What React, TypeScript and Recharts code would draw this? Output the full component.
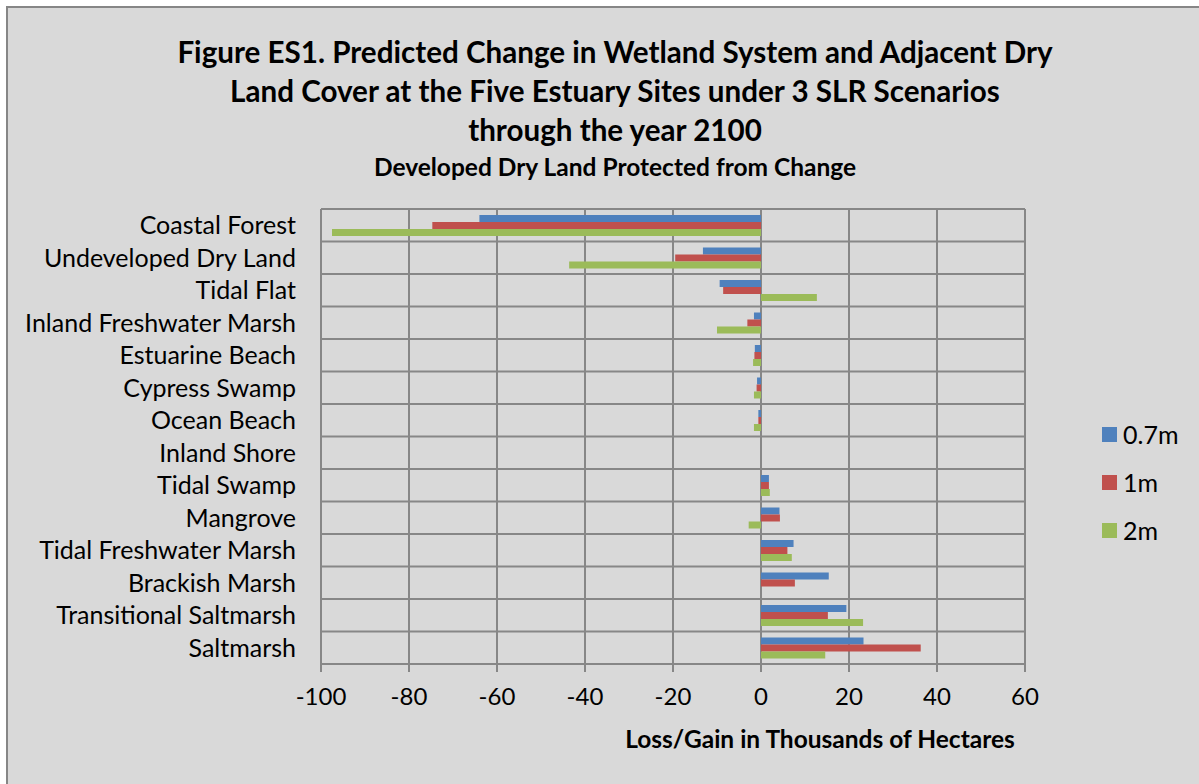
import React from 'react';
import { BarChart, Bar, XAxis, YAxis, CartesianGrid } from 'recharts';

const categories = [
  'Coastal Forest',
  'Undeveloped Dry Land',
  'Tidal Flat',
  'Inland Freshwater Marsh',
  'Estuarine Beach',
  'Cypress Swamp',
  'Ocean Beach',
  'Inland Shore',
  'Tidal Swamp',
  'Mangrove',
  'Tidal Freshwater Marsh',
  'Brackish Marsh',
  'Transitional Saltmarsh',
  'Saltmarsh',
];

const slr07 = [-64, -13.2, -9.4, -1.6, -1.4, -0.9, -0.6, 0, 1.8, 4.2, 7.4, 15.4, 19.4, 23.3];
const slr1 = [-74.7, -19.5, -8.6, -3.1, -1.5, -1.0, -0.6, 0, 1.8, 4.3, 6.0, 7.7, 15.2, 36.3];
const slr2 = [-97.5, -43.6, 12.7, -10.0, -1.8, -1.6, -1.6, 0, 2.0, -2.8, 7.0, 0, 23.2, 14.6];

const xTicks = [-100, -80, -60, -40, -20, 0, 20, 40, 60];

const SERIES = [
  { key: 'a', name: '0.7m', color: '#4f81bd' },
  { key: 'b', name: '1m', color: '#c0504d' },
  { key: 'c', name: '2m', color: '#9bbb59' },
];

const data = categories.map((c, i) => ({
  name: c,
  a: slr07[i],
  b: slr1[i],
  c: slr2[i],
}));

const FONT = 'Lato, Carlito, Calibri, sans-serif';
const GRID = '#878787';

export default function App() {
  return (
    <div style={{ position: 'absolute', left: 0, top: 0, width: 1199, height: 784, background: '#fff' }}>
      <div
        style={{
          position: 'absolute',
          left: 6,
          top: 6,
          width: 1193,
          height: 778,
          background: '#d9d9d9',
          borderLeft: '2px solid #868686',
          borderTop: '2px solid #868686',
          boxSizing: 'border-box',
        }}
      />
      <div
        style={{
          position: 'absolute',
          left: 0,
          top: 32,
          width: 1230,
          textAlign: 'center',
          fontFamily: FONT,
          fontWeight: 700,
          fontSize: 29.6,
          lineHeight: '39px',
          color: '#000',
        }}
      >
        Figure ES1. Predicted Change in Wetland System and Adjacent Dry
        <br />
        Land Cover at the Five Estuary Sites under 3 SLR Scenarios
        <br />
        through the year 2100
      </div>
      <div
        style={{
          position: 'absolute',
          left: 0,
          top: 151,
          width: 1230,
          textAlign: 'center',
          fontFamily: FONT,
          fontWeight: 700,
          fontSize: 24.5,
          lineHeight: '32px',
          color: '#000',
        }}
      >
        Developed Dry Land Protected from Change
      </div>
      <div
        style={{
          position: 'absolute',
          left: 520,
          top: 723,
          width: 600,
          textAlign: 'center',
          fontFamily: FONT,
          fontWeight: 700,
          fontSize: 24.5,
          lineHeight: '32px',
          color: '#000',
        }}
      >
        Loss/Gain in Thousands of Hectares
      </div>
      <div
        style={{
          position: 'absolute',
          left: 1102,
          top: 410,
          fontFamily: FONT,
          fontSize: 25,
          color: '#000',
        }}
      >
        {SERIES.map(s => (
          <div key={s.key} style={{ display: 'flex', alignItems: 'center', height: 48 }}>
            <span
              style={{ width: 15, height: 15, background: s.color, display: 'inline-block', marginRight: 6 }}
            />
            {s.name}
          </div>
        ))}
      </div>
      <div style={{ position: 'absolute', left: 0, top: 0 }}>
        <BarChart
          width={1199}
          height={784}
          data={data}
          layout="vertical"
          margin={{ top: 209, right: 174, bottom: 60, left: 21 }}
          barGap={0}
          barSize={7}
        >
          <CartesianGrid
            stroke={GRID}
            strokeWidth={2}
            horizontalCoordinatesGenerator={({ offset }: any) =>
              categories.map((_, i) => offset.top + (i * offset.height) / categories.length)
            }
          />
          <XAxis
            type="number"
            domain={[-100, 60]}
            ticks={xTicks}
            interval={0}
            stroke={GRID}
            axisLine={{ stroke: GRID, strokeWidth: 2 }}
            tickLine={{ stroke: GRID, strokeWidth: 2 }}
            tickSize={8}
            tickMargin={16}
            height={60}
            tick={{ fill: '#000', fontSize: 24, fontFamily: FONT }}
          />
          <YAxis
            type="category"
            dataKey="name"
            width={300}
            axisLine={false}
            tickLine={false}
            tickSize={0}
            tickMargin={25}
            interval={0}
            tick={{ fill: '#000', fontSize: 25, fontFamily: FONT }}
          />
          {SERIES.map(s => (
            <Bar key={s.key} dataKey={s.key} name={s.name} fill={s.color} isAnimationActive={false} />
          ))}
        </BarChart>
      </div>
    </div>
  );
}
